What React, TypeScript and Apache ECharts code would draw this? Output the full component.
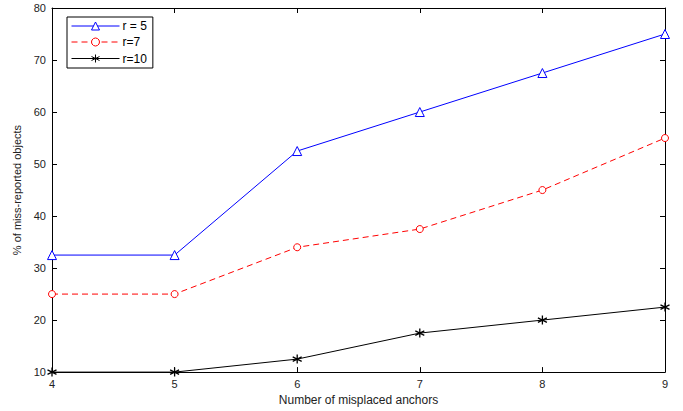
import React, { useEffect, useRef } from "react";
import * as echarts from "echarts";

const categories = [4, 5, 6, 7, 8, 9];
const r5 = [32.5, 32.5, 52.5, 60, 67.5, 75];
const r7 = [25, 25, 34, 37.5, 45, 55];
const r10 = [10, 10, 12.5, 17.5, 20, 22.5];
const seriesNames = ["r = 5", "r=7", "r=10"];

const STAR = "path://M5,0L5,10M0.67,2.5L9.33,7.5M0.67,7.5L9.33,2.5";

export default function App() {
  const ref = useRef<HTMLDivElement>(null);
  useEffect(() => {
    const chart = echarts.init(ref.current!, null, { renderer: "svg" });
    const font = "Liberation Sans";
    const mk = (arr: number[]) => arr.map((v, i) => [categories[i], v]);
    const axisCommon = {
      axisLine: { lineStyle: { color: "#000", width: 1 } },
      axisTick: { inside: true, length: 5, lineStyle: { color: "#000" } },
      splitLine: { show: false },
    };
    chart.setOption({
      animation: false,
      backgroundColor: "#fff",
      textStyle: { fontFamily: font },
      grid: { left: 52, right: 18, top: 8, bottom: 35 },
      legend: {
        left: 67,
        top: 17,
        orient: "vertical",
        itemWidth: 48,
        itemHeight: 10,
        itemGap: 4,
        padding: [3, 6, 3, 4],
        borderColor: "#000",
        borderWidth: 1,
        backgroundColor: "#fff",
        lineStyle: { width: 1 },
        itemStyle: { borderWidth: 1 },
        textStyle: { fontSize: 12, color: "#000", fontFamily: font, padding: [0, 0, 0, -2] },
        data: seriesNames,
      },
      xAxis: [
        {
          type: "value",
          min: 4,
          max: 9,
          interval: 1,
          ...axisCommon,
          axisLabel: { color: "#222", fontSize: 11, margin: 6, fontFamily: font },
          name: "Number of misplaced anchors",
          nameLocation: "middle",
          nameGap: 20,
          nameTextStyle: { color: "#222", fontSize: 12, fontFamily: font },
        },
        {
          type: "value",
          position: "top",
          min: 4,
          max: 9,
          interval: 1,
          ...axisCommon,
          axisLabel: { show: false },
        },
      ],
      yAxis: [
        {
          type: "value",
          min: 10,
          max: 80,
          interval: 10,
          ...axisCommon,
          axisLabel: { color: "#222", fontSize: 11, margin: 6, fontFamily: font },
          name: "% of miss-reported objects",
          nameLocation: "middle",
          nameGap: 30,
          nameTextStyle: { color: "#222", fontSize: 11, fontFamily: font },
        },
        {
          type: "value",
          position: "right",
          min: 10,
          max: 80,
          interval: 10,
          ...axisCommon,
          axisLabel: { show: false },
        },
      ],
      series: [
        {
          name: seriesNames[0],
          type: "line",
          data: mk(r5),
          symbol: "triangle",
          symbolSize: 9,
          lineStyle: { color: "#0000ff", width: 1 },
          itemStyle: { color: "#fff", borderColor: "#0000ff", borderWidth: 1 },
        },
        {
          name: seriesNames[1],
          type: "line",
          data: mk(r7),
          symbol: "circle",
          symbolSize: 7,
          lineStyle: { color: "#ff0000", width: 1, type: [6, 4] },
          itemStyle: { color: "#fff", borderColor: "#ff0000", borderWidth: 1 },
        },
        {
          name: seriesNames[2],
          type: "line",
          data: mk(r10),
          symbol: STAR,
          symbolSize: 9,
          lineStyle: { color: "#000", width: 1 },
          itemStyle: { color: "none", borderColor: "#000", borderWidth: 1.3 },
        },
      ],
    });
    return () => chart.dispose();
  }, []);
  return <div ref={ref} style={{ width: 683, height: 411, position: "absolute", left: 0, top: 0 }} />;
}
